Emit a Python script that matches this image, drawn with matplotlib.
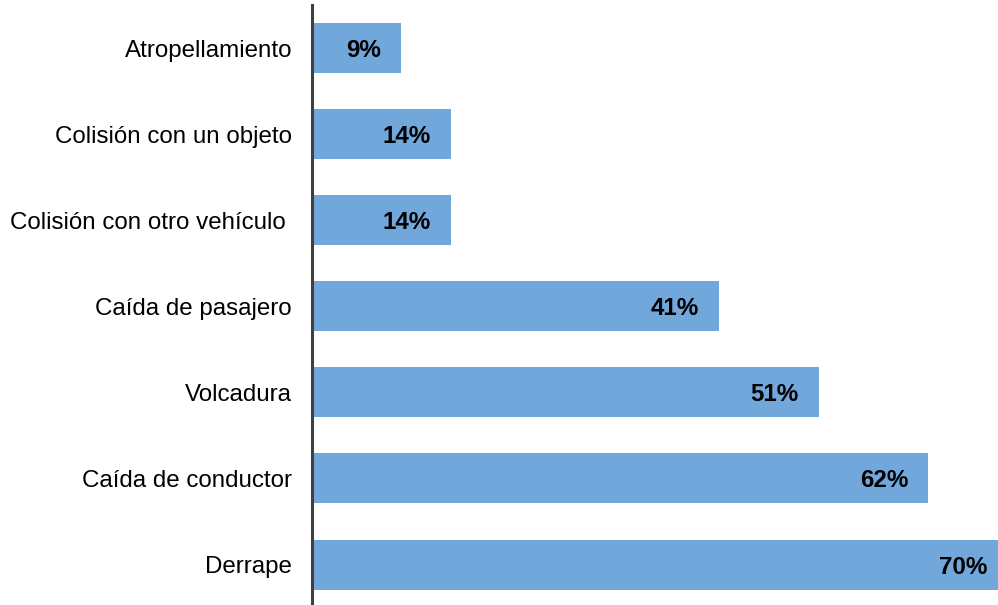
import matplotlib
matplotlib.use("Agg")
import matplotlib.pyplot as plt

categories = ["Atropellamiento", "Colisión con un objeto", "Colisión con otro vehículo ",
              "Caída de pasajero", "Volcadura", "Caída de conductor", "Derrape"]
values = [9, 14, 14, 41, 51, 62, 70]
labels = ["9%", "14%", "14%", "41%", "51%", "62%", "70%"]

plt.rcParams['font.family'] = ['Liberation Sans', 'DejaVu Sans']

fig = plt.figure(figsize=(9.98, 6.05), dpi=100)
ax = fig.add_axes([311.5 / 998, 0, 686.5 / 998, 600 / 605])

y = list(range(len(categories)))
ax.barh(y, values, height=0.58, color='#71A7DB', edgecolor='none')
for yi, v, lab in zip(y, values, labels):
    ax.text(v - 2.0, yi, lab, ha='right', va='center_baseline', fontsize=17.4,
            fontweight='bold', color='black')

ax.set_xlim(0, 686.5 / 9.943)
ax.set_ylim(6.47, -0.5)
ax.set_yticks(y)
ax.set_yticklabels(categories, fontsize=17.4)
ax.tick_params(axis='y', length=0, pad=14)
ax.set_xticks([])
for s in ['top', 'right', 'bottom']:
    ax.spines[s].set_visible(False)
ax.spines['left'].set_color('#404040')
ax.spines['left'].set_linewidth(2.2)

fig.savefig('out.png', dpi=100)
